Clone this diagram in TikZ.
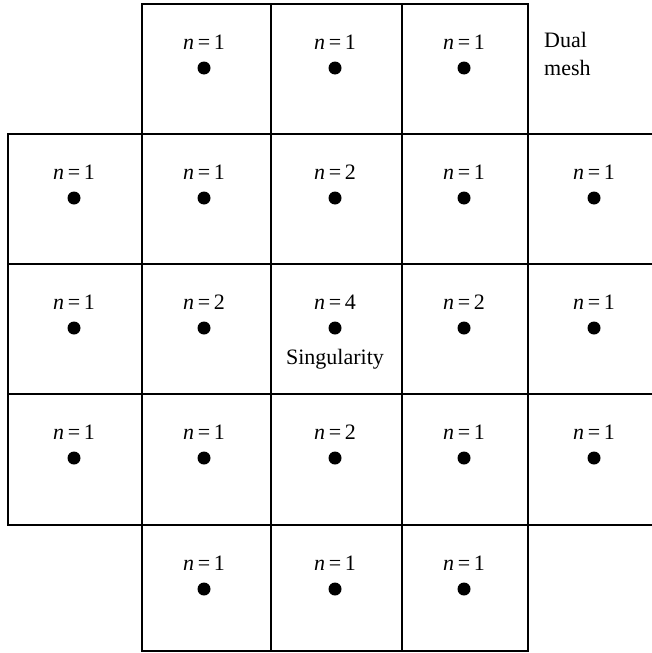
\documentclass[tikz,border=0pt]{standalone}
\usepackage{fontspec}
\setmainfont{Liberation Serif}
\begin{document}
\begin{tikzpicture}[x=1pt,y=-1pt,
  gridline/.style={line width=2.2pt, line cap=rect},
  dotnode/.style={circle, fill=black, inner sep=0pt, minimum size=13pt},
  lab/.style={font=\fontsize{22}{28}\selectfont, inner sep=0pt}]
\useasboundingbox (0,0) rectangle (652,653);
% top row
\draw[gridline] (142,134) -- (142,4) -- (528,4) -- (528,134);
\draw[gridline] (271,4) -- (271,134);
\draw[gridline] (402,4) -- (402,134);
% horizontal lines of the wide part
\foreach \yy in {134,264,394,525}
  \draw[gridline] (8,\yy) -- (652,\yy);
% left border
\draw[gridline] (8,134) -- (8,525);
% verticals in middle rows and bottom row
\foreach \xx in {142,271,402,528}
  \draw[gridline] (\xx,134) -- (\xx,651);
% bottom row closing line
\draw[gridline] (142,651) -- (528,651);
% cell labels and dots
\foreach \cx/\top/\n/\id in {
  204/4/1/a1, 335/4/1/a2, 464/4/1/a3,
  74/134/1/b0, 204/134/1/b1, 335/134/2/b2, 464/134/1/b3, 594/134/1/b4,
  74/264/1/c0, 204/264/2/c1, 335/264/4/c2, 464/264/2/c3, 594/264/1/c4,
  74/394/1/d0, 204/394/1/d1, 335/394/2/d2, 464/394/1/d3, 594/394/1/d4,
  204/525/1/e1, 335/525/1/e2, 464/525/1/e3}{
  \node[lab] (l-\id) at (\cx,\top+38) {\textit{n}\,=\,\n};
  \node[dotnode] (d-\id) at (\cx,\top+64) {};
}
\node[lab] (sing) at (335,359) {Singularity};
\node[lab, anchor=west, align=left] (dual) at (544,54) {Dual\\mesh};
\end{tikzpicture}
\end{document}
